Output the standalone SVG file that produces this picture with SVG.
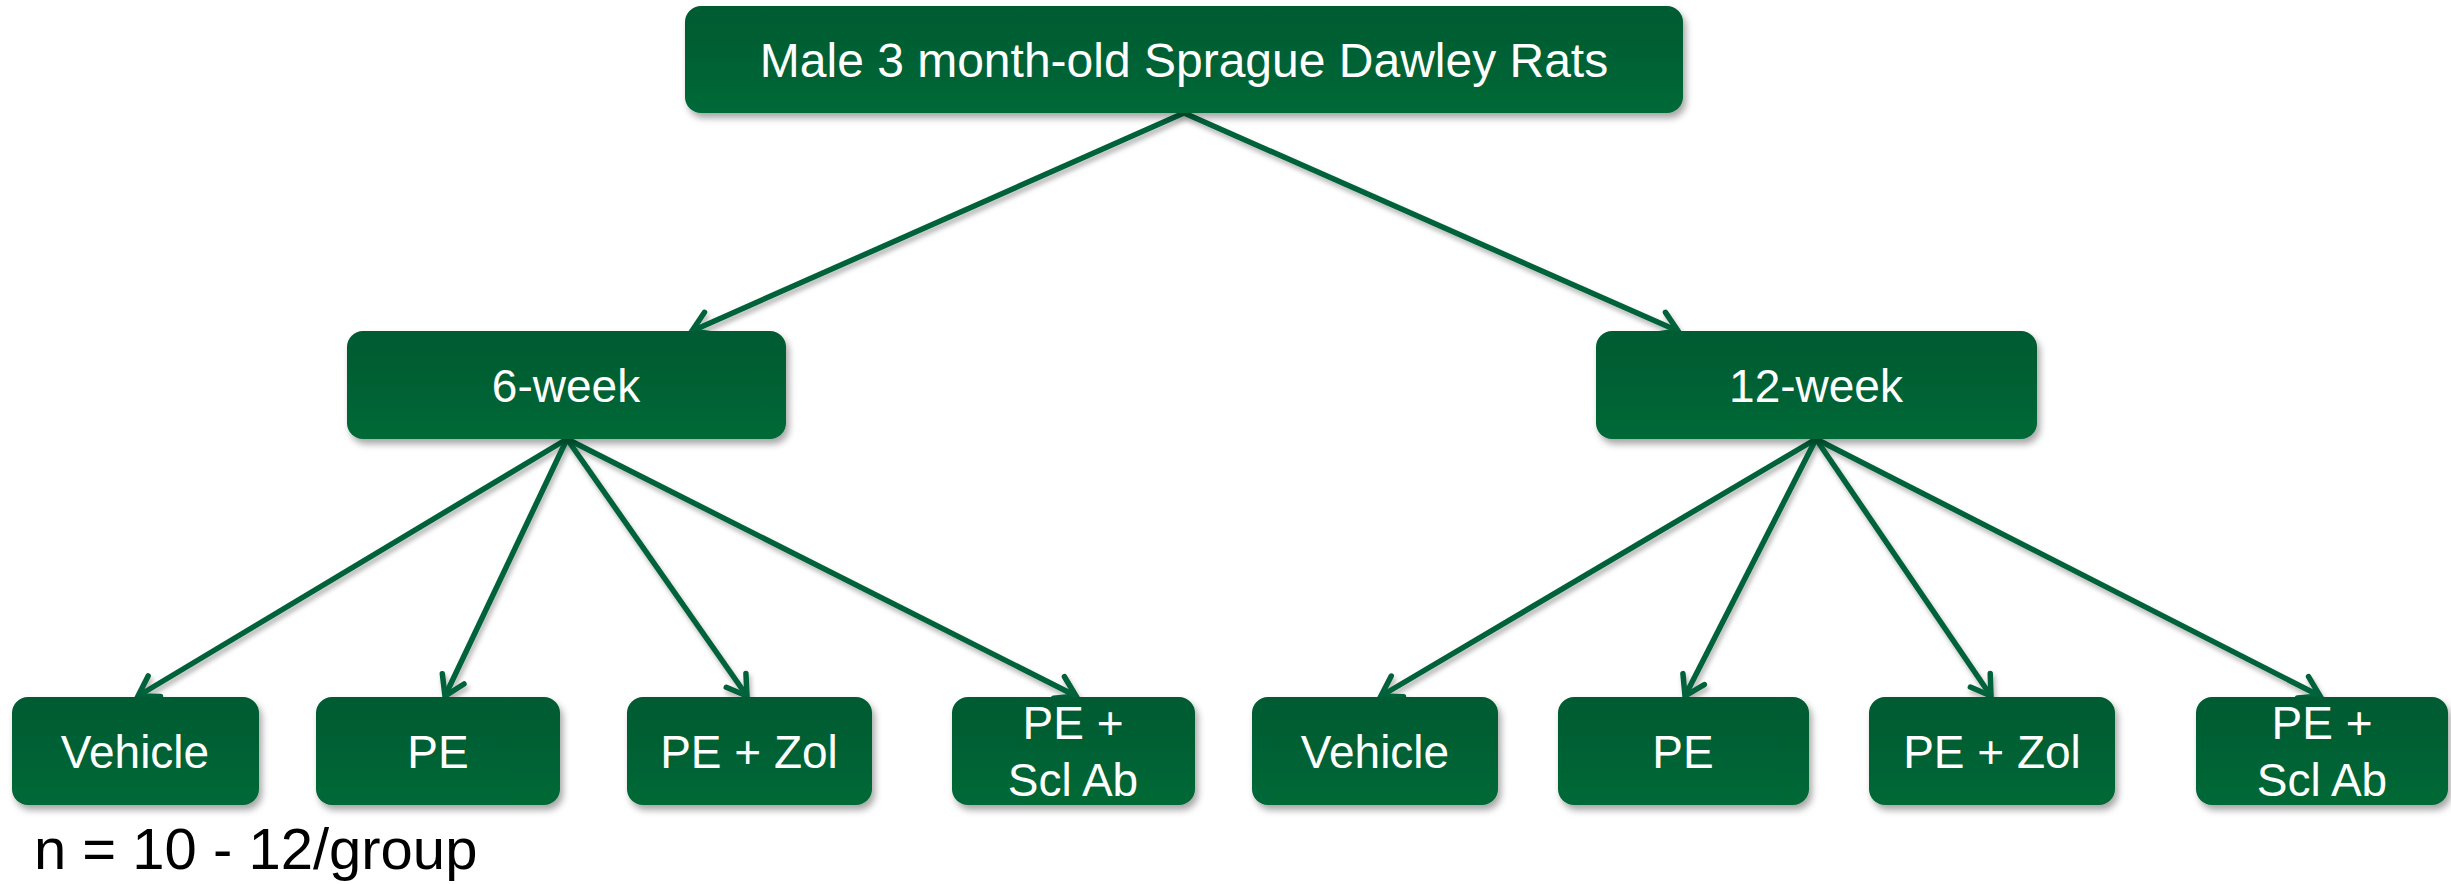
<svg xmlns="http://www.w3.org/2000/svg" width="2451" height="884" viewBox="0 0 2451 884">
<defs>
<linearGradient id="g" x1="0" y1="0" x2="0" y2="1">
<stop offset="0" stop-color="#005A31"/>
<stop offset="1" stop-color="#006937"/>
</linearGradient>
<filter id="sh" x="-10%" y="-20%" width="120%" height="150%">
<feDropShadow dx="3" dy="5" stdDeviation="3.5" flood-color="#000" flood-opacity="0.35"/>
</filter>
<filter id="lsh" x="-10%" y="-10%" width="120%" height="130%">
<feDropShadow dx="2" dy="4" stdDeviation="2.5" flood-color="#000" flood-opacity="0.3"/>
</filter>
<marker id="ah" markerUnits="userSpaceOnUse" markerWidth="30" markerHeight="30" viewBox="-3 -3 28 30" refX="19" refY="12" orient="auto" overflow="visible">
<path d="M0,0 L19,12 L0,24" fill="none" stroke="#00623A" stroke-width="5.5" stroke-linecap="round" stroke-linejoin="miter"/>
</marker>
</defs>
<style>
.box{fill:url(#g);filter:url(#sh)}
.t{font-family:"Liberation Sans",Arial,sans-serif;font-size:46px;fill:#fff;text-anchor:middle}
.c{fill:none;stroke:#00623A;stroke-width:5.5;marker-end:url(#ah)}
</style>
<rect width="2451" height="884" fill="#fff"/>
<g id="connectors" filter="url(#lsh)">
<line class="c" x1="1184" y1="113" x2="692" y2="331"/>
<line class="c" x1="1184" y1="113" x2="1678" y2="331"/>
<line class="c" x1="567" y1="439" x2="138" y2="696"/>
<line class="c" x1="567" y1="439" x2="445" y2="696"/>
<line class="c" x1="567" y1="439" x2="747" y2="696"/>
<line class="c" x1="567" y1="439" x2="1076" y2="696"/>
<line class="c" x1="1816" y1="439" x2="1381" y2="696"/>
<line class="c" x1="1816" y1="439" x2="1685" y2="696"/>
<line class="c" x1="1816" y1="439" x2="1991" y2="696"/>
<line class="c" x1="1816" y1="439" x2="2320" y2="696"/>
</g>
<g id="root"><rect class="box" x="685" y="6" width="998" height="107" rx="16"/><text class="t" x="1184" y="77" style="font-size:48px">Male 3 month-old Sprague Dawley Rats</text></g>
<g id="w6"><rect class="box" x="347" y="331" width="439" height="108" rx="16"/><text class="t" x="566" y="402">6-week</text></g>
<g id="w12"><rect class="box" x="1596" y="331" width="441" height="108" rx="16"/><text class="t" x="1816" y="402">12-week</text></g>
<g id="veh1"><rect class="box" x="12" y="697" width="247" height="108" rx="16"/><text class="t" x="135" y="768">Vehicle</text></g>
<g id="pe1"><rect class="box" x="316" y="697" width="244" height="108" rx="16"/><text class="t" x="438" y="768">PE</text></g>
<g id="zol1"><rect class="box" x="627" y="697" width="245" height="108" rx="16"/><text class="t" x="749" y="768">PE + Zol</text></g>
<g id="scl1"><rect class="box" x="952" y="697" width="243" height="108" rx="16"/><text class="t" x="1073" y="739">PE +</text><text class="t" x="1073" y="796">Scl Ab</text></g>
<g id="veh2"><rect class="box" x="1252" y="697" width="246" height="108" rx="16"/><text class="t" x="1375" y="768">Vehicle</text></g>
<g id="pe2"><rect class="box" x="1558" y="697" width="251" height="108" rx="16"/><text class="t" x="1683" y="768">PE</text></g>
<g id="zol2"><rect class="box" x="1869" y="697" width="246" height="108" rx="16"/><text class="t" x="1992" y="768">PE + Zol</text></g>
<g id="scl2"><rect class="box" x="2196" y="697" width="252" height="108" rx="16"/><text class="t" x="2322" y="739">PE +</text><text class="t" x="2322" y="796">Scl Ab</text></g>
<text id="note" x="34" y="869" style="font-family:'Liberation Sans',Arial,sans-serif;font-size:58px;fill:#000">n = 10 - 12/group</text>
</svg>
